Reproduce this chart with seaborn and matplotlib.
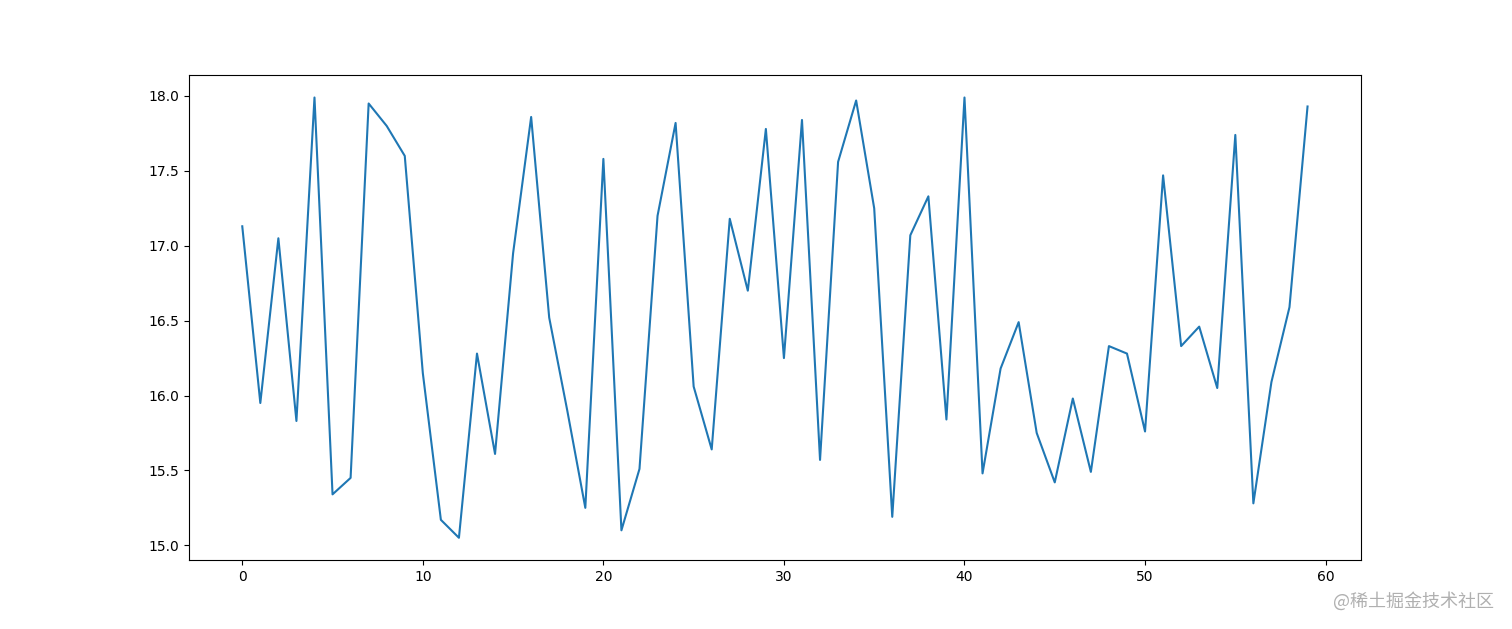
import numpy as np
import pandas as pd
import seaborn as sns
import matplotlib.pyplot as plt

x = list(range(60))
y = [17.13, 15.95, 17.05, 15.83, 17.99, 15.34, 15.45, 17.95, 17.80, 17.60,
     16.15, 15.17, 15.05, 16.28, 15.61, 16.95, 17.86, 16.52, 15.90, 15.25,
     17.58, 15.10, 15.51, 17.20, 17.82, 16.06, 15.64, 17.18, 16.70, 17.78,
     16.25, 17.84, 15.57, 17.56, 17.97, 17.25, 15.19, 17.07, 17.33, 15.84,
     17.99, 15.48, 16.18, 16.49, 15.75, 15.42, 15.98, 15.49, 16.33, 16.28,
     15.76, 17.47, 16.33, 16.46, 16.05, 17.74, 15.28, 16.09, 16.59, 17.93]
df = pd.DataFrame({"x": x, "y": y})

fig = plt.figure(figsize=(15.12, 6.29), dpi=100)
ax = fig.add_subplot(111)
sns.lineplot(data=df, x="x", y="y", ax=ax)
ax.set_xlabel("")
ax.set_ylabel("")

fig.text(0.988, 0.044, "@稀土掘金技术社区", ha="right", va="center",
         fontsize=13, color="#b0b0b0",
         family=["Noto Sans CJK SC", "DejaVu Sans"])

fig.savefig("out.png", dpi=100)
